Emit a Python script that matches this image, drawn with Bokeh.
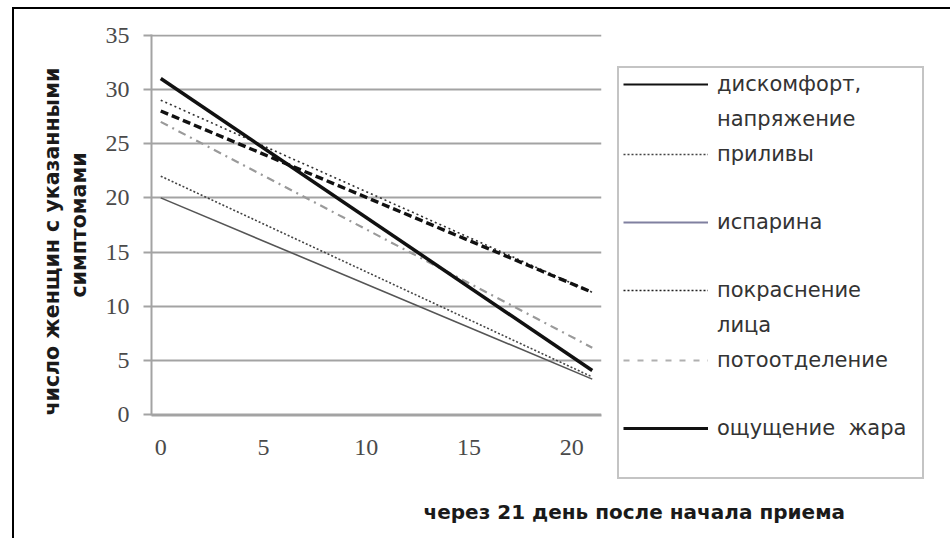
from bokeh.plotting import figure
from bokeh.models import Range1d, Legend, LegendItem, Title, FixedTicker
from bokeh.embed import file_html
from bokeh.resources import INLINE

# ---------------- data ----------------
days = [0, 21]
discomfort = [28, 11.3]
flushes = [22, 3.5]
sweat_light = [20, 3.3]
face_red = [29, 11.3]
sweating = [27, 6.2]
heat = [31, 4.1]
x_ticks = [0, 5, 10, 15, 20]
y_ticks = [0, 5, 10, 15, 20, 25, 30, 35]
legend_rows = ["дискомфорт,", "напряжение", "приливы", " ", "испарина", " ",
               "покраснение", "лица", "потоотделение", " ", "ощущение  жара", " "]
y_title_1 = "число  женщин с указанными"
y_title_2 = "симптомами"
x_title = "через 21 день после начала  приема"

# ---------------- layout ----------------
OFFX, OFFY = 16, 11          # page offset of the canvas
FL, FT, FW, FH = 153 - OFFX, 36 - OFFY, 450, 381
X0, X1 = -0.45, 21.45
Y0, Y1 = -0.05, 35.05
NAN = float("nan")

p = figure(frame_width=FW, frame_height=FH, output_backend="svg",
           toolbar_location=None,
           x_range=Range1d(X0, X1), y_range=Range1d(Y0, Y1),
           min_border_left=FL, min_border_top=FT,
           min_border_right=330, min_border_bottom=116)
p.outline_line_color = None
p.background_fill_color = "white"
p.border_fill_color = "white"
p.styles = {"border-top": "2px solid black", "border-left": "2px solid black",
            "margin-left": "12px", "margin-top": "7px"}

grid_col = "#a3a3a3"
p.xgrid.grid_line_color = None
p.ygrid.grid_line_color = grid_col
p.ygrid.grid_line_width = 2
p.ygrid.ticker = FixedTicker(ticks=y_ticks)

p.yaxis.ticker = FixedTicker(ticks=y_ticks)
p.yaxis.axis_line_color = grid_col
p.yaxis.axis_line_width = 2
p.yaxis.major_tick_line_color = grid_col
p.yaxis.major_tick_line_width = 2
p.yaxis.major_tick_out = 8
p.yaxis.major_tick_in = 0
p.yaxis.minor_tick_line_color = None
p.yaxis.major_label_standoff = 14
p.yaxis.axis_label = y_title_2
p.yaxis.axis_label_standoff = 12
p.yaxis.axis_label_text_font = "DejaVu Sans"
p.yaxis.axis_label_text_font_style = "bold"
p.yaxis.axis_label_text_font_size = "20.5px"
p.yaxis.axis_label_text_color = "#1a1a1a"

p.xaxis.ticker = FixedTicker(ticks=x_ticks)
p.xaxis.axis_line_color = grid_col
p.xaxis.axis_line_width = 2
p.xaxis.major_tick_line_color = None
p.xaxis.minor_tick_line_color = None
p.xaxis.major_label_standoff = 18

for ax in (p.xaxis, p.yaxis):
    ax.major_label_text_font = "Liberation Serif"
    ax.major_label_text_font_size = "24px"
    ax.major_label_text_color = "#4a4a4a"

# ---------------- plotted lines ----------------
p.line(days, sweat_light, line_color="#555555", line_width=1.6)
p.line(days, flushes, line_color="#444444", line_width=1.6, line_dash="2 2")
p.line(days, sweating, line_color="#9a9a9a", line_width=2.2, line_dash="8 5 2 5")
p.line(days, face_red, line_color="#333333", line_width=1.6, line_dash="2 3")
p.line(days, discomfort, line_color="#111111", line_width=3.4, line_dash="8 4")
p.line(days, heat, line_color="#111111", line_width=3.5)

# ---------------- legend (styles as drawn in the legend box) ----------------
def proxy(**kw):
    return p.line(days, [NAN, NAN], **kw)

blank = dict(line_alpha=0)
proxies = [
    proxy(line_color="#111111", line_width=2),
    proxy(**blank),
    proxy(line_color="#444444", line_width=1.5, line_dash="2 2"),
    proxy(**blank),
    proxy(line_color="#8080a0", line_width=2),
    proxy(**blank),
    proxy(line_color="#222222", line_width=1.5, line_dash="2 2"),
    proxy(**blank),
    proxy(line_color="#b0b0b0", line_width=2, line_dash="6 8"),
    proxy(**blank),
    proxy(line_color="#111111", line_width=3),
    proxy(**blank),
]
items = [LegendItem(label=t, renderers=[r]) for t, r in zip(legend_rows, proxies)]
legend = Legend(items=items, location=(16, -64), padding=4, margin=0,
                spacing=11, glyph_width=85, glyph_height=22, label_height=22,
                label_width=201, label_standoff=9,
                border_line_color="#8a8a8a", border_line_width=2,
                background_fill_color="white", background_fill_alpha=1,
                label_text_font="DejaVu Sans", label_text_font_size="21px",
                label_text_color="#333333")
p.add_layout(legend, "right")

# ---------------- axis titles ----------------
p.add_layout(Title(text=y_title_1, align="left", offset=0, standoff=0,
                   text_font="DejaVu Sans", text_font_style="bold",
                   text_font_size="20.5px", text_color="#1a1a1a"), "left")
p.add_layout(Title(text=x_title, align="left", offset=272, standoff=80,
                   text_font="DejaVu Sans", text_font_style="bold",
                   text_font_size="20px", text_color="#1a1a1a"), "below")

open("out.html", "w").write(file_html(p, INLINE))
